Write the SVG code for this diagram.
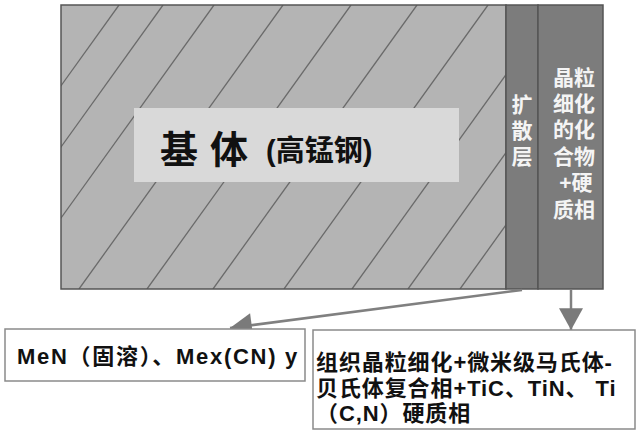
<svg xmlns="http://www.w3.org/2000/svg" width="640" height="434" viewBox="0 0 640 434">
<style>
  .cjk { font-family: "Liberation Sans", "Noto Sans CJK SC", sans-serif; font-weight: bold; fill: #111111; }
  .hatch { stroke: #6a6a6a; stroke-width: 1.3; fill: none; }
  .layer { fill: #7c7c7c; stroke: #555555; stroke-width: 1.5; }
  .wtxt { fill: #f4f4f4; font-size: 21px; text-anchor: middle; font-family: "Liberation Sans", "Noto Sans CJK SC", sans-serif; font-weight: bold; }
  .box { fill: #ffffff; stroke: #8a8a8a; stroke-width: 1.5; }
  .conn { stroke: #808080; stroke-width: 2.5; fill: none; marker-end: url(#arrow); }
</style>
<defs>
  <clipPath id="clipMain"><rect x="61" y="5" width="445" height="284"/></clipPath>
  <marker id="arrow" markerUnits="userSpaceOnUse" markerWidth="24" markerHeight="24" viewBox="0 0 20 22" refX="20" refY="11" orient="auto">
    <path d="M0,0 L20,11 L0,22 Z" fill="#7a7a7a"/>
  </marker>
</defs>
<rect width="640" height="434" fill="#ffffff"/>

<g id="substrate">
  <rect x="61" y="5" width="445" height="284" fill="#b4b4b4"/>
  <g clip-path="url(#clipMain)" class="hatch">
    <line x1="119" y1="5" x2="-85" y2="289"/>
    <line x1="163" y1="5" x2="-41" y2="289"/>
    <line x1="214" y1="5" x2="10" y2="289"/>
    <line x1="283" y1="5" x2="79" y2="289"/>
    <line x1="351" y1="5" x2="147" y2="289"/>
    <line x1="417" y1="5" x2="213" y2="289"/>
    <line x1="488" y1="5" x2="284" y2="289"/>
    <line x1="556" y1="5" x2="352" y2="289"/>
    <line x1="612" y1="5" x2="408" y2="289"/>
    <line x1="664" y1="5" x2="460" y2="289"/>
  </g>
  <rect x="61" y="5" width="445" height="284" fill="none" stroke="#555555" stroke-width="1.5"/>
  <rect x="134" y="108" width="325" height="74" fill="#d9d9d9"/>
  <text class="cjk" font-size="38" x="160" y="163">基</text>
  <text class="cjk" font-size="38" x="210" y="163">体</text>
  <text class="cjk" x="266" y="161" font-size="29">(高锰钢)</text>
</g>

<g id="diffusion-layer">
  <rect class="layer" x="506" y="5" width="32" height="284"/>
  <text class="wtxt" x="522" y="112">扩<tspan x="522" dy="26">散</tspan><tspan x="522" dy="26">层</tspan></text>
</g>

<g id="compound-layer">
  <rect class="layer" x="538" y="5" width="65" height="284"/>
  <text class="wtxt" x="574" y="85">晶粒<tspan x="574" dy="26">细化</tspan><tspan x="574" dy="26">的化</tspan><tspan x="574" dy="27">合物</tspan><tspan x="576" dy="26">+硬</tspan><tspan x="574" dy="27">质相</tspan></text>
</g>

<g id="connectors">
  <line class="conn" x1="522" y1="290" x2="230" y2="328"/>
  <line class="conn" x1="571" y1="290" x2="571" y2="330"/>
</g>

<g id="box-left">
  <rect class="box" x="5" y="329" width="300" height="52"/>
  <text class="cjk" x="17" y="364" font-size="22" letter-spacing="1.7">MeN（固溶）、Mex(CN) y</text>
</g>

<g id="box-right">
  <rect class="box" x="313" y="330" width="322" height="99"/>
  <text class="cjk" x="316" y="370" font-size="22" letter-spacing="0.9">组织晶粒细化+微米级马氏体-<tspan x="316" dy="26">贝氏体复合相+TiC、TiN、 Ti</tspan><tspan x="316" dy="25">（C,N）硬质相</tspan></text>
</g>
</svg>
